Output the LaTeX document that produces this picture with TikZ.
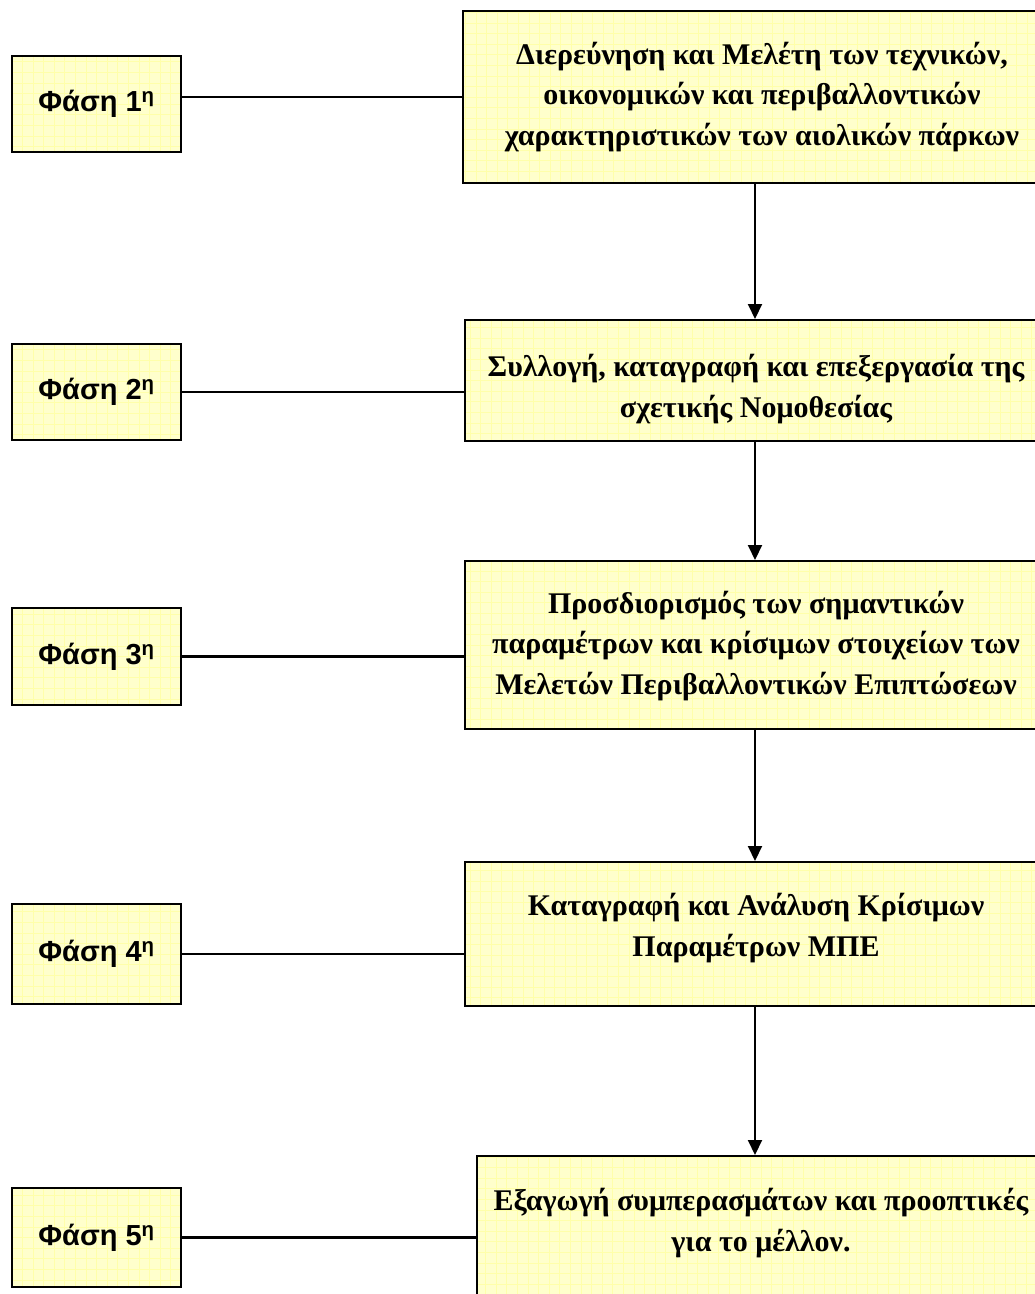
\documentclass[tikz,border=0pt]{standalone}
\usepackage{fontspec}
\setmainfont{Liberation Serif}
\newfontfamily\phasefont{Liberation Sans}
\usetikzlibrary{arrows.meta}
\definecolor{boxfill}{RGB}{255,255,204}
\definecolor{boxgrid}{RGB}{255,255,170}
\tikzset{
  panel/.style={draw=black, line width=2pt, fill=boxfill, inner sep=0pt,
    path picture={\draw[boxgrid, line width=0.5pt, step=10.6pt]
      (path picture bounding box.south west) grid (path picture bounding box.north east);}},
  phasebox/.style={panel, minimum width=169pt},
  taskbox/.style={panel},
  phasetext/.style={font=\phasefont\bfseries\fontsize{29}{34}\selectfont},
  tasktext/.style={font=\bfseries\fontsize{30}{40.5}\selectfont, align=center, inner sep=0pt},
  link/.style={line width=2.6pt},
  flow/.style={line width=2pt, -{Triangle[width=14pt,length=15pt]}}
}
\begin{document}
\begin{tikzpicture}[x=1pt,y=-1pt]
\useasboundingbox (0,0) rectangle (1035,1294);
\clip (0,0) rectangle (1035,1294);

% task boxes (right column)
\node[taskbox, minimum width=598pt, minimum height=172pt] (b1) at (762,97) {};
\node[taskbox, minimum width=582pt, minimum height=121pt] (b2) at (756,380.5) {};
\node[taskbox, minimum width=582pt, minimum height=168pt] (b3) at (756,645) {};
\node[taskbox, minimum width=582pt, minimum height=144pt] (b4) at (756,934) {};
\node[taskbox, minimum width=568pt, minimum height=150pt] (b5) at (761,1231) {};

\node[tasktext] (t1) at (762,97) {Διερεύνηση και Μελέτη των τεχνικών,\\οικονομικών και περιβαλλοντικών\\χαρακτηριστικών των αιολικών πάρκων};
\node[tasktext] (t2) at (756,389) {Συλλογή, καταγραφή και επεξεργασία της\\σχετικής Νομοθεσίας};
\node[tasktext] (t3) at (756,646) {Προσδιορισμός των σημαντικών\\παραμέτρων και κρίσιμων στοιχείων των\\Μελετών Περιβαλλοντικών Επιπτώσεων};
\node[tasktext] (t4) at (756,928) {Καταγραφή και Ανάλυση Κρίσιμων\\Παραμέτρων ΜΠΕ};
\node[tasktext] (t5) at (761,1223) {Εξαγωγή συμπερασμάτων και προοπτικές\\για το μέλλον.};

% phase boxes (left column)
\node[phasebox, minimum height=96pt] (p1) at (96.5,104) {};
\node[phasebox, minimum height=96pt] (p2) at (96.5,392) {};
\node[phasebox, minimum height=97pt] (p3) at (96.5,656.5) {};
\node[phasebox, minimum height=100pt] (p4) at (96.5,954) {};
\node[phasebox, minimum height=99pt] (p5) at (96.5,1237.5) {};

\node[phasetext] (f1) at (p1) {Φάση 1\textsuperscript{η}};
\node[phasetext] (f2) at (p2) {Φάση 2\textsuperscript{η}};
\node[phasetext] (f3) at (p3) {Φάση 3\textsuperscript{η}};
\node[phasetext] (f4) at (p4) {Φάση 4\textsuperscript{η}};
\node[phasetext] (f5) at (p5) {Φάση 5\textsuperscript{η}};

% phase-to-task links
\draw[link] (p1.east |- b1.west) -- (b1.west);
\draw[link] (p2.east) -- (p2.east -| b2.west);
\draw[link] (p3.east) -- (p3.east -| b3.west);
\draw[link] (p4.east) -- (p4.east -| b4.west);
\draw[link] (p5.east) -- (p5.east -| b5.west);

% flow between tasks
\coordinate (ax) at (755,0);
\draw[flow] (b1.south -| ax) -- (b2.north -| ax);
\draw[flow] (b2.south -| ax) -- (b3.north -| ax);
\draw[flow] (b3.south -| ax) -- (b4.north -| ax);
\draw[flow] (b4.south -| ax) -- (b5.north -| ax);
\end{tikzpicture}
\end{document}
